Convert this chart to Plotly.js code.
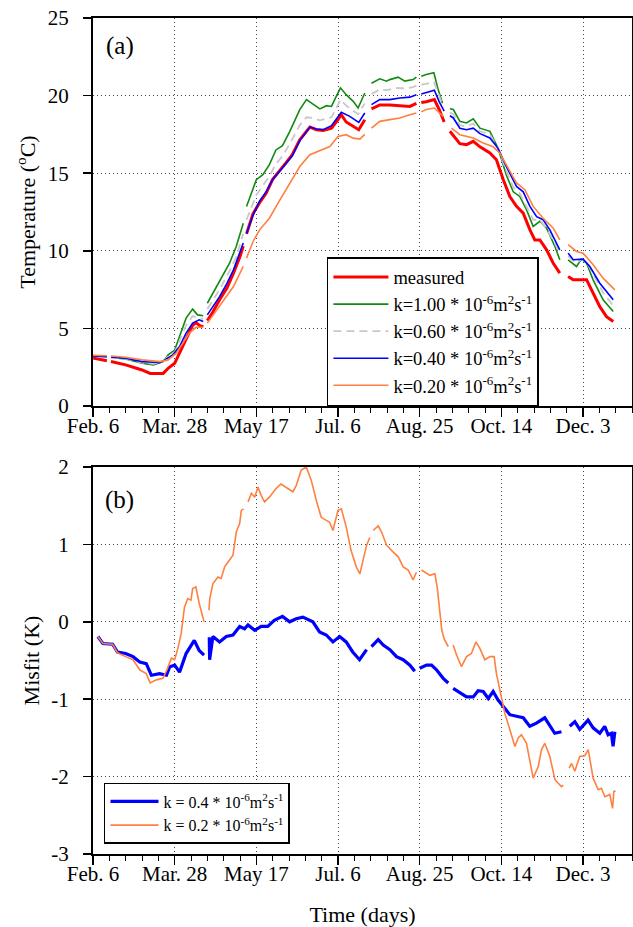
<!DOCTYPE html>
<html><head><meta charset="utf-8">
<script src="https://cdn.plot.ly/plotly-3.0.1.min.js"></script>
<style>html,body{margin:0;padding:0;background:#fff}</style>
</head><body><div id="chart" style="width:633px;height:927px"></div>
<script>
// ---- axis ticks (days since Feb. 6) ----
const tickDays = [0,50,100,150,200,250,300];
const tickLabels = ['Feb. 6','Mar. 28','May 17','Jul. 6','Aug. 25','Oct. 14','Dec. 3'];
const misfitTicks = [-3,-2,-1,0,1,2];
const misfitTickLabels = ['-3','-2','-1','0','1','2'];

// ---- panel (a): temperature ----
const measDays = [0,8.5,10,11,20,30,35,43,46,50,53,57,61,63,65,67.5,69,70,73,77.5,82,86,90,92,93,94,98,102,106,110,114,118,122,126.6,132.8,136.8,140.9,146,149,152,155,159.3,162.7,166.4,168.5,170.5,175.6,181.7,187.8,194,198,199.5,201,204,209,212,215,217,218.5,224.6,228.7,232.8,236.9,243,247,251.2,255.2,259.3,263.4,267.5,270.5,273.6,277.7,281.8,285.8,288.5,290.9,294,302.2,306.2,310.3,314.4,318.5];
const measT = [3.1,2.92,null,2.87,2.65,2.32,2.1,2.1,2.43,2.75,3.4,4.26,5.2,5.37,5.2,5.1,null,5.5,5.98,6.84,7.6,8.56,9.63,10.3,null,11.1,12.4,13.1,13.7,14.6,15.1,15.65,16.2,17.15,17.97,17.8,17.76,17.9,18.3,18.77,18.3,18.0,17.8,18.45,null,19.14,19.4,19.4,19.35,19.3,19.5,null,19.55,19.6,19.74,19.1,18.3,null,17.7,16.9,16.84,17.05,16.7,16.3,15.87,14.58,13.5,12.86,12.43,11.35,10.7,10.7,10.06,9.2,8.56,null,8.34,8.13,8.13,7.27,6.4,5.76,5.44];

const k100Days = [0,8.5,10,11,20,30,37,43,46,50,53,57,61,64,67.5,69,70,77.5,83.6,87.7,92,93,94,100,104,108,112,116,120.5,126.6,130.7,134.8,138.9,143,146,149,151.5,155,159.3,162.3,166.4,168.5,170.5,175.6,179.7,181.7,186.8,190.9,196,198,199.5,201,204,208.7,211.3,214,217,218.5,220.6,224.6,228.7,232.8,236.9,243,248,253,257.3,261.3,265.4,269.5,273.6,277.7,282.8,285.8,288.5,290.9,296,299,302.2,306.2,312.3,318.5];
const k100T = [3.23,3.18,null,3.12,3.03,2.75,2.64,2.86,3.29,3.6,4.47,5.66,6.24,5.87,5.81,null,6.62,8.0,9.2,10.28,11.78,null,12.86,14.58,14.9,15.55,16.5,16.77,17.7,19.1,19.74,19.42,19.14,19.35,19.3,19.96,20.5,20.06,19.63,19.2,20.17,null,20.8,21.08,20.93,21.03,21.19,20.93,21.03,21.19,null,21.25,21.36,21.47,20.4,19.5,null,19.15,19.1,18.34,18.24,18.5,17.9,17.7,16.6,14.9,13.8,13.5,12.65,11.57,11.9,11.46,10.28,9.42,null,9.42,8.99,9.46,9.2,8.13,6.84,6.09];

const k060Days = k100Days.slice();
const k060T = [3.23,3.18,null,3.13,3.05,2.8,2.72,2.88,3.2,3.45,4.15,5.2,5.8,5.65,5.62,null,6.25,7.5,8.7,9.6,11.1,null,12.0,13.6,14.2,14.8,15.6,16.1,16.9,18.1,18.6,18.55,18.4,18.5,18.6,19.2,19.74,19.35,19.0,18.8,19.5,null,20.1,20.4,20.35,20.4,20.5,20.45,20.55,20.65,null,20.7,20.75,20.9,20.1,19.4,null,18.9,18.8,18.1,18.0,18.2,17.7,17.5,16.6,15.15,14.1,13.7,12.9,12.0,12.0,11.4,10.5,9.8,null,9.65,9.2,9.45,9.3,8.5,7.3,6.45];

const k040Days = [0,8.5,10,11,20,30,41,44,49,53,57,61,65,67.5,69,70,77.5,82,86,92,93,94,98,102,106,110,114,118,122,126.6,132.8,136.8,140.9,146,149,152,157.2,162.7,166.4,168.5,170.5,175.6,181.7,187.8,194,198,199.5,201,204,209,212,215,217,218.5,220.6,224.6,228.7,232.8,236.9,243,248,253,259.3,263.4,267.5,271.6,275.6,279.7,285.8,288.5,290.9,294,300.1,304.2,310.3,318.5];
const k040T = [3.23,3.18,null,3.16,3.08,2.86,2.8,2.97,3.3,3.83,4.7,5.34,5.55,5.44,null,5.87,7.05,7.9,8.77,10.5,null,11.1,12.3,13.2,13.8,14.6,15.1,15.6,16.1,17.1,17.97,17.85,17.8,18.06,18.5,18.92,18.66,18.27,18.88,null,19.42,19.74,19.74,19.85,19.9,20.06,null,20.1,20.2,20.35,19.6,19.0,null,18.7,18.56,17.9,17.8,17.9,17.55,17.27,16.6,15.44,14.15,13.8,12.86,12.2,12.0,11.35,10.06,null,9.85,9.42,9.46,8.99,7.91,6.84];

const k020Days = [0,8.5,10,11,20,30,41,46,51,55,59,63,67.5,69,70,77.5,86,92,93,94,98,102,108,114,120.5,126.6,132.8,138.9,145,150,155,159.3,163.4,166.4,168.5,170.5,175.6,181.7,187.8,194,198,199.5,201,204,209,214.4,217,219.5,224.6,232.8,238.9,245,249,253,259.3,264.4,269.5,275.6,281.8,285.8,288.5,290.9,296,300.1,306.2,312.3,319.5];
const k020T = [3.27,3.24,null,3.22,3.14,2.97,2.86,2.97,3.4,4.05,4.7,5.07,5.07,null,5.34,6.41,7.7,9.0,null,9.53,10.6,11.35,12.1,13.2,14.4,15.43,16.19,16.47,16.72,17.37,17.48,17.26,17.2,17.5,null,17.9,18.34,18.45,18.56,18.77,18.88,null,18.95,19.1,19.2,18.66,null,17.9,17.48,17.27,16.95,16.7,16.3,15.55,14.37,13.94,12.86,12.1,11.46,10.7,null,10.4,9.96,9.85,9.1,8.24,7.48];

// ---- panel (b): misfit ----
const mis04Days = [3,6,12,15,20,24.5,28.6,32.6,35.7,40.8,45,47,50,53,57,60,62,65,68,69.5,71.2,71.4,73.4,77.5,81.6,85.7,89.8,92.8,94.9,99,103,107,111,116,120.4,124.4,128.5,134.6,138.7,142.8,146.9,151,155,159,163.2,167.5,168.8,170.5,174.6,177.7,181.8,185.8,189.9,194,197,198.5,200,204.2,207.3,210.3,214.4,217.5,219,220.5,224.6,228.7,232.8,235.8,238.9,242,245,248,251.1,255.2,259.3,263.4,267.4,271.5,276.6,279.7,282.7,286.8,289,291.9,295,298,303.1,306.2,310.3,313.3,315.4,317.4,318.4,319.5];
const mis04 = [-0.19,-0.28,-0.29,-0.39,-0.41,-0.45,-0.52,-0.54,-0.69,-0.67,-0.69,-0.58,-0.56,-0.65,-0.41,-0.3,-0.24,-0.37,-0.43,null,-0.2,-0.49,-0.19,-0.26,-0.19,-0.17,-0.06,-0.09,-0.04,-0.11,-0.06,-0.06,0.02,0.07,0.0,0.04,0.06,0.0,-0.13,-0.17,-0.26,-0.19,-0.26,-0.39,-0.49,-0.36,null,-0.32,-0.23,-0.3,-0.36,-0.45,-0.49,-0.56,-0.64,null,-0.6,-0.56,-0.56,-0.62,-0.73,-0.79,null,-0.86,-0.92,-0.97,-0.97,-0.89,-0.9,-0.99,-0.9,-1.01,-1.09,-1.2,-1.22,-1.24,-1.35,-1.31,-1.24,-1.35,-1.44,-1.42,null,-1.35,-1.29,-1.39,-1.27,-1.37,-1.44,-1.35,-1.46,-1.44,-1.61,-1.42];

const mis02Days = [3,6,12,15,20,24.5,28.6,32.6,35,38.8,42.8,45.3,48,50,52,54,56,58,60,61,63,65,68,69.5,71,71.5,73.4,76.5,78.5,80.6,82.6,85.7,87.7,89.8,90.8,92.2,93.5,94.9,97,99,101,103,105,108,112,115,118,122.4,124.4,127.5,130.6,133.6,136.7,139.7,142.8,144.8,146.9,150,152,155,158,161.2,163.4,165.4,167.5,169.5,170.5,171.6,174.6,176.7,179.7,183.8,186.9,189.9,193,196,198,199.5,201.1,206.2,209.3,210.7,212,213.5,215,217.5,219,220.5,222.6,225.6,228.7,231.7,234.4,236.8,239.9,243,245.6,247,249.1,252.1,255.2,258.3,260.3,262.3,265.4,267.5,269.5,272.6,274.6,276.6,279.7,282.8,286.8,287.9,289.5,291.5,293,295,298,301.1,303.2,306.2,309.3,311.3,313.4,316.4,318.1,318.9,320];
const mis02 = [-0.19,-0.28,-0.29,-0.4,-0.45,-0.49,-0.62,-0.67,-0.79,-0.75,-0.73,-0.62,-0.47,-0.49,-0.34,-0.15,0.19,0.3,0.28,0.43,0.45,0.24,0.0,null,0.15,0.3,0.49,0.58,0.56,0.71,0.77,0.86,1.16,1.27,1.44,1.46,null,1.55,1.66,1.61,1.74,1.63,1.55,1.61,1.72,1.78,1.74,1.68,1.76,1.96,2.0,1.83,1.57,1.35,1.31,1.29,1.18,1.44,1.46,1.23,0.92,0.71,0.62,0.79,0.99,1.09,null,1.18,1.24,1.16,0.99,0.9,0.84,0.71,0.67,0.54,0.64,null,0.67,0.6,0.62,0.45,0.2,-0.1,-0.22,-0.32,null,-0.3,-0.43,-0.58,-0.45,-0.41,-0.26,-0.34,-0.49,-0.45,-0.45,-0.67,-0.88,-1.18,-1.39,-1.61,-1.5,-1.46,-1.57,-1.83,-2.02,-1.87,-1.65,-1.57,-1.74,-2.04,-2.13,-2.11,null,-1.89,-1.83,-1.93,-1.74,-1.73,-1.65,-2.02,-2.17,-2.15,-2.26,-2.23,-2.41,-2.19,-2.19];

const serif = 'Liberation Serif, Times New Roman, serif';
const kUnit = ' * 10<sup>-6</sup>m<sup>2</sup>s<sup>-1</sup>';

function line(x, y, name, color, width, dash, xa, ya, lg) {
  return {x, y, name, type:'scatter', mode:'lines', xaxis:xa, yaxis:ya, legend:lg,
    line:{color, width, dash:dash||'solid'}, connectgaps:false, hoverinfo:'skip'};
}

const traces = [
  line(measDays, measT, 'measured', '#ff0000', 3, null, 'x', 'y', 'legend'),
  line(k100Days, k100T, 'k=1.00' + kUnit, '#118a11', 1.6, null, 'x', 'y', 'legend'),
  line(k060Days, k060T, 'k=0.60' + kUnit, '#c8c8c8', 1.8, '8px,5px', 'x', 'y', 'legend'),
  line(k040Days, k040T, 'k=0.40' + kUnit, '#0000ff', 1.6, null, 'x', 'y', 'legend'),
  line(k020Days, k020T, 'k=0.20' + kUnit, '#ff8040', 1.6, null, 'x', 'y', 'legend'),
  line(mis04Days, mis04, 'k = 0.4' + kUnit, '#0000ff', 3.2, null, 'x2', 'y2', 'legend2'),
  line(mis02Days, mis02, 'k = 0.2' + kUnit, '#ff8040', 1.6, null, 'x2', 'y2', 'legend2')
];

const tickFont = {family: serif, size: 21, color: '#000'};
function xAxis(anchor, withTitle) {
  const a = {
    anchor, range:[0,330], tickmode:'array', tickvals:tickDays, ticktext:tickLabels,
    ticks:'outside', ticklen:9, tickwidth:1.5, tickcolor:'#000', ticklabelstandoff:-9,
    minor:{tickmode:'linear', tick0:0, dtick:10, ticks:'outside', ticklen:5, tickwidth:1, tickcolor:'#000', showgrid:false},
    showline:true, linecolor:'#000', linewidth:2, mirror:true,
    showgrid:true, gridcolor:'#444', griddash:'1px,3px', gridwidth:1,
    zeroline:false, tickfont:tickFont, fixedrange:true
  };
  if (withTitle) a.title = {text:'Time (days)', font:{family:serif, size:22, color:'#000'}, standoff:24};
  return a;
}
function yAxis(anchor, domain, extra, title) {
  return Object.assign({
    anchor, domain, ticks:'outside', ticklen:8, tickwidth:1.5, tickcolor:'#000', ticklabelstandoff:10,
    showline:true, linecolor:'#000', linewidth:2, mirror:true,
    showgrid:true, gridcolor:'#444', griddash:'1px,3px', gridwidth:1,
    zeroline:false, tickfont:tickFont, fixedrange:true,
    title:{text:title, font:{family:serif, size:22, color:'#000'}, standoff:6}
  }, extra);
}

const layout = {
  width:633, height:927,
  margin:{l:93, r:1, t:18, b:73},
  paper_bgcolor:'#fff', plot_bgcolor:'#fff',
  font:{family:serif, color:'#000'},
  xaxis: xAxis('y', false),
  yaxis: yAxis('x', [0.5359, 1], {range:[0,25], tickmode:'linear', tick0:0, dtick:5}, 'Temperature (<sup>o</sup>C)'),
  xaxis2: xAxis('y2', true),
  yaxis2: yAxis('x2', [0, 0.4629], {range:[-3,2], tickmode:'array', tickvals:misfitTicks, ticktext:misfitTickLabels}, 'Misfit (K)'),
  legend: {x:0.434, y:0.714, xanchor:'left', yanchor:'top', bgcolor:'#fff', bordercolor:'#000', borderwidth:1.5,
    font:{family:serif, size:18.5, color:'#000'}, itemwidth:55, tracegroupgap:0},
  legend2: {x:0.0204, y:0.085, xanchor:'left', yanchor:'top', bgcolor:'#fff', bordercolor:'#000', borderwidth:1.5,
    font:{family:serif, size:16, color:'#000'}, itemwidth:48},
  annotations:[
    {xref:'x', yref:'y', x:16.5, y:23.2, text:'(a)', showarrow:false, font:{family:serif, size:25, color:'#000'}},
    {xref:'x2', yref:'y2', x:16.5, y:1.57, text:'(b)', showarrow:false, font:{family:serif, size:25, color:'#000'}}
  ],
  showlegend:true
};

Plotly.newPlot('chart', traces, layout, {staticPlot:true, displayModeBar:false});
</script>
</body></html>
